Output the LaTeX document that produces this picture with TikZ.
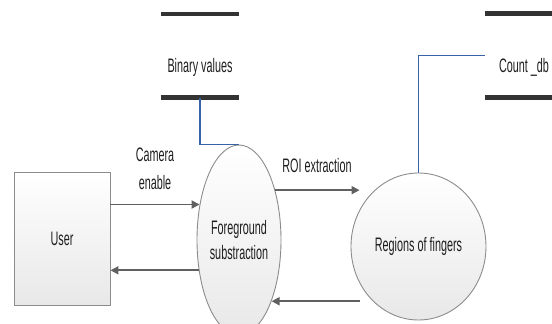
\documentclass[tikz,border=0pt]{standalone}
\usepackage{fontspec}
\setmainfont{Liberation Sans}[FakeStretch=0.555]
\usetikzlibrary{shapes.geometric,arrows.meta,calc}
\definecolor{bordergray}{HTML}{8C8C8C}
\definecolor{arrgray}{HTML}{606060}
\definecolor{linkblue}{HTML}{3A62A6}
\definecolor{bardark}{HTML}{333333}
\definecolor{txt}{HTML}{1E1E1E}
\begin{document}
\begin{tikzpicture}[x=1pt,y=-1pt,
  every node/.style={font=\fontsize{19.5}{25}\selectfont, text=txt, inner sep=0pt},
  shaded/.style={draw=bordergray, line width=0.9pt, top color=white, bottom color=black!9},
  entity/.style={shaded, rectangle, minimum width=96pt, minimum height=133pt},
  process/.style={shaded, ellipse},
  storebox/.style={rectangle, minimum width=78pt, minimum height=83.5pt},
  bar/.style={draw=bardark, line width=4.5pt},
  arr/.style={draw=arrgray, line width=1.8pt, -{Triangle[length=8pt,width=8pt]}},
  link/.style={draw=linkblue, line width=1.4pt}]
\useasboundingbox (0,0) rectangle (552,324);

% nodes
\node[entity] (user) at (62,238.5) {User};
\node[process, minimum width=84pt, minimum height=190pt, align=center] (fg) at (239,240) {Foreground\\substraction};
\node[process, minimum width=135pt, minimum height=147pt] (rf) at (418.5,246.5) {Regions of fingers};

\node[storebox] (bin) at (200,55.75) {};
\node (bintext) at (200,67) {Binary values};
\node[storebox] (cnt) at (524,55.5) {};
\node (cnttext) at (524,67) {Count \_db};

% store bars
\draw[bar] (bin.north west) -- (bin.north east);
\draw[bar] (bin.south west) -- (bin.south east);
\draw[bar] (cnt.north west) -- (cnt.north east);
\draw[bar] (cnt.south west) -- (cnt.south east);

% links to stores
\draw[link] (bin.south) |- (fg.north);
\draw[link] (cnt.west) -| (rf.north);

% border points
\coordinate (a1) at (fg.138);
\coordinate (a2) at (fg.217);
\coordinate (a3) at (fg.54);
\coordinate (a4) at (fg.298.5);
\coordinate (rfx) at ([xshift=9pt]rf.west);

% flows
\draw[arr] (user.east |- a1) -- (a1);
\draw[arr] (a2) -- (user.east |- a2);
\draw[arr] (a3) -- (rfx |- a3);
\draw[arr] (rfx |- a4) -- (a4);

% labels
\node[align=center, font=\fontsize{19.5}{28}\selectfont] (camlbl) at (155,169) {Camera\\enable};
\node (roilbl) at (317,166) {ROI extraction};
\end{tikzpicture}
\end{document}
